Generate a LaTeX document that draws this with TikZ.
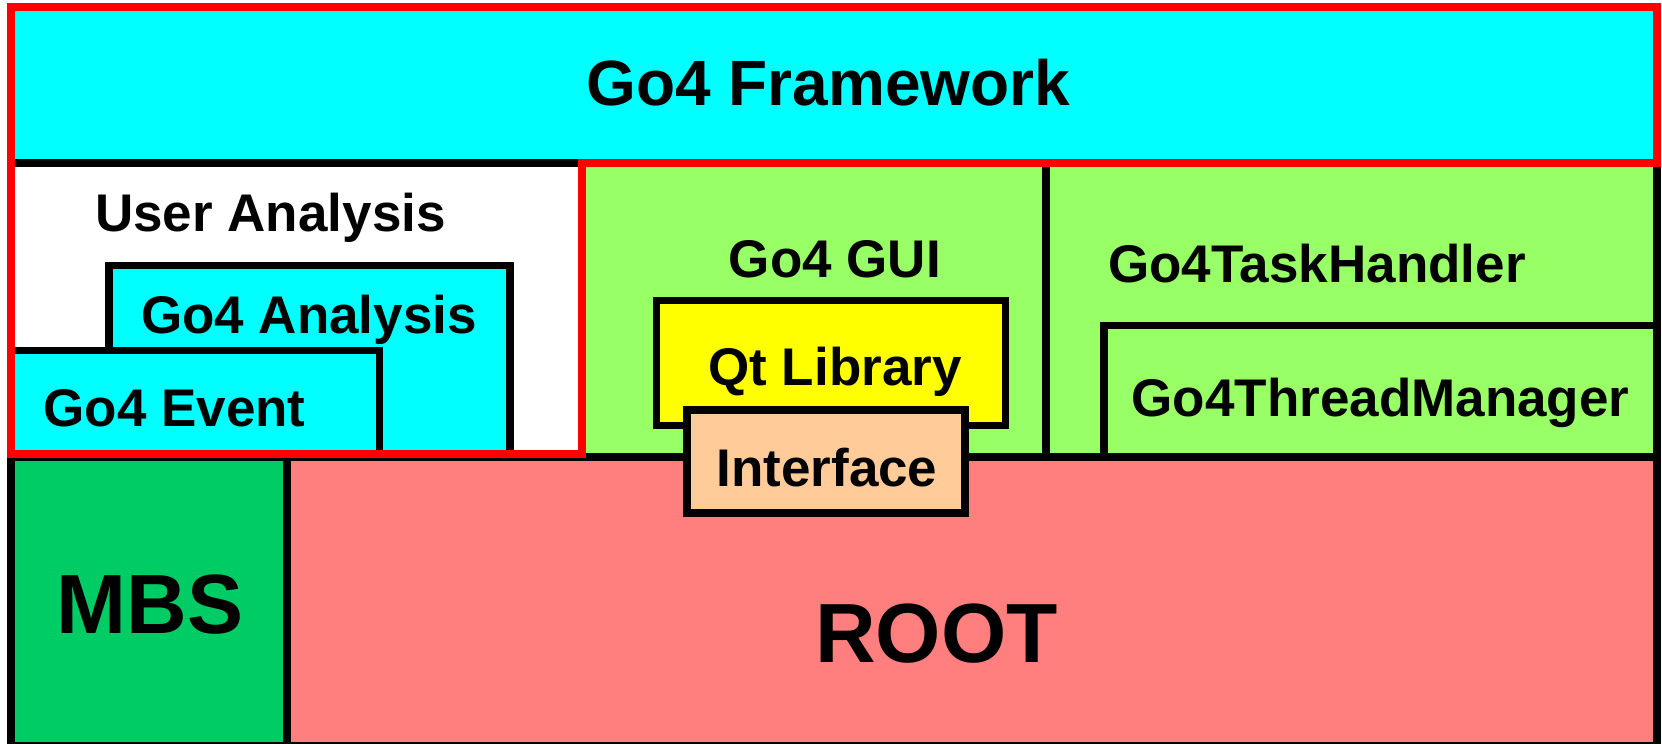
\documentclass[tikz,border=0pt]{standalone}
\usepackage{fontspec}
\setmainfont{Liberation Sans}
\definecolor{fwcyan}{HTML}{00FFFF}
\definecolor{guigreen}{HTML}{99FF66}
\definecolor{qtyellow}{HTML}{FFFF00}
\definecolor{ifpeach}{HTML}{FFCC99}
\definecolor{mbsgreen}{HTML}{00CC66}
\definecolor{rootred}{HTML}{FF7F7F}
\definecolor{hlred}{HTML}{FF0000}
\tikzset{
  box/.style={draw=black, line width=7.5pt, rectangle, outer sep=0pt, inner sep=0pt, anchor=north west},
  lbl/.style={anchor=base, inner sep=0pt, font=\fontsize{53}{60}\selectfont\bfseries},
  biglbl/.style={anchor=base, inner sep=0pt, font=\fontsize{84}{95}\selectfont\bfseries},
  fwlbl/.style={anchor=base, inner sep=0pt, font=\fontsize{64}{72}\selectfont\bfseries},
  hl/.style={draw=hlred, line width=8pt, line join=miter}
}
\begin{document}
\begin{tikzpicture}[x=1pt, y=-1pt]
\useasboundingbox[fill=white] (0,0) rectangle (1662,744);
% framework
\node[box, line width=1pt, fill=fwcyan, minimum width=1646pt, minimum height=156.5pt] (fw) at (11,6.5) {};
% user analysis
\node[box, fill=white, minimum width=570.5pt, minimum height=291pt] (ua) at (11,163) {};
\node[box, fill=fwcyan, minimum width=401pt, minimum height=188.5pt] (ana) at (109,265.5) {};
\node[box, fill=fwcyan, minimum width=368.5pt, minimum height=103.5pt] (evt) at (11,350.5) {};
% gui and task handler
\node[box, fill=guigreen, minimum width=464.5pt, minimum height=294pt] (gui) at (581.5,163) {};
\node[box, fill=guigreen, minimum width=611pt, minimum height=294pt] (task) at (1046,163) {};
\node[box, fill=guigreen, minimum width=553pt, minimum height=131.5pt] (thr) at (1104,325.5) {};
% bottom layer
\node[box, fill=mbsgreen, minimum width=276pt, minimum height=289pt] (mbs) at (11,457) {};
\node[box, fill=rootred, minimum width=1370pt, minimum height=289pt] (root) at (287,457) {};
% qt and interface
\node[box, fill=qtyellow, minimum width=349pt, minimum height=125pt] (qt) at (656.5,300.5) {};
\node[box, fill=ifpeach, minimum width=278pt, minimum height=103pt] (intf) at (687,410) {};
% red highlight outline
\draw[hl] (fw.north west) -- (fw.north east) -- (fw.south east) -- (ua.north east) -- (ua.south east) -- (ua.south west) -- cycle;
% labels
\node[fwlbl] (tfw) at (828.5,105) {Go4 Framework};
\node[lbl] (tua) at (270.5,231) {User Analysis};
\node[lbl] (tana) at (309,333) {Go4 Analysis};
\node[lbl] (tevt) at (174.5,426) {Go4 Event};
\node[lbl] (tgui) at (835,277) {Go4 GUI};
\node[lbl] (tqt) at (835,385) {Qt Library};
\node[lbl] (tintf) at (827,486) {Interface};
\node[lbl] (ttask) at (1317,282) {Go4TaskHandler};
\node[lbl] (tthr) at (1380.5,416) {Go4ThreadManager};
\node[biglbl] (tmbs) at (150,633) {MBS};
\node[biglbl] (troot) at (936.5,662) {ROOT};
\end{tikzpicture}
\end{document}
